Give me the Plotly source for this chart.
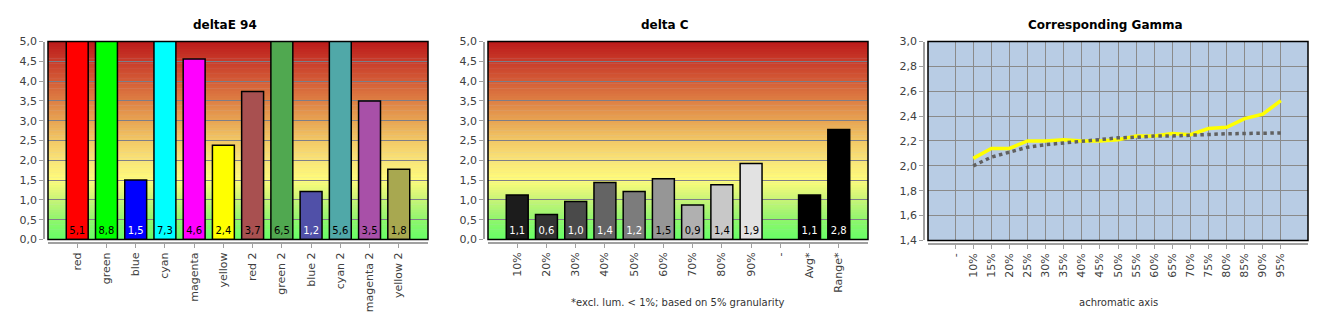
import plotly.graph_objects as go

# ---------------- data ----------------
de_cats = ["red", "green", "blue", "cyan", "magenta", "yellow",
           "red 2", "green 2", "blue 2", "cyan 2", "magenta 2", "yellow 2"]
de_vals = [5.1, 8.8, 1.5, 7.3, 4.56, 2.38, 3.74, 6.5, 1.21, 5.6, 3.5, 1.77]
de_colors = ["#ff0000", "#00ff00", "#0000ff", "#00ffff", "#ff00ff", "#ffff00",
             "#a85050", "#50a850", "#5050a8", "#50a8a8", "#a850a8", "#a8a850"]
de_text_colors = ["black", "black", "white", "black", "black", "black",
                  "black", "black", "white", "black", "black", "black"]

dc_cats = ["10%", "20%", "30%", "40%", "50%", "60%", "70%", "80%", "90%", "-", "Avg*", "Range*"]
dc_vals = [1.12, 0.63, 0.96, 1.44, 1.21, 1.53, 0.87, 1.38, 1.92, None, 1.12, 2.78]
dc_colors = ["#1c1c1c", "#333333", "#4a4a4a", "#646464", "#7c7c7c", "#969696",
             "#b0b0b0", "#c8c8c8", "#e2e2e2", "#000000", "#000000", "#000000"]
dc_text_colors = ["white", "white", "white", "white", "white", "black",
                  "black", "black", "black", "white", "white", "white"]

gm_cats = ["-", "10%", "15%", "20%", "25%", "30%", "35%", "40%", "45%", "50%",
           "55%", "60%", "65%", "70%", "75%", "80%", "85%", "90%", "95%"]
gm_measured = [None, 2.06, 2.14, 2.14, 2.20, 2.20, 2.21, 2.20, 2.20, 2.21,
               2.24, 2.24, 2.26, 2.25, 2.30, 2.31, 2.38, 2.415, 2.525]
gm_target = [None, 2.00, 2.07, 2.11, 2.15, 2.17, 2.185, 2.20, 2.215, 2.225,
             2.23, 2.24, 2.24, 2.247, 2.25, 2.258, 2.26, 2.265, 2.265]

# ---------------- layout geometry ----------------
W, H = 1330, 330
def fx(px):
    return px / W
def fy(py):
    return 1 - py / H

x1 = [fx(48), fx(428)]
x2 = [fx(488), fx(868)]
x3 = [fx(928), fx(1308)]
ydom = [fy(243), fy(37)]
ydom3 = [fy(244), fy(37)]
off_x = 4 / W
off_y = 4 / H

FONT = "DejaVu Sans"
TICKCOL = "#404040"
GRID = "#7e7e88"
GRID3 = "#8a8a8a"
AXLINE = "#a0a0a0"

fig = go.Figure()

fig.add_trace(go.Bar(
    x=de_cats, y=de_vals, marker=dict(color=de_colors, line=dict(color="black", width=1.5)),
    width=0.75, texttemplate="%{y:.1f}", textposition="inside", insidetextanchor="start",
    textangle=0, constraintext="none",
    textfont=dict(family=FONT, size=10, color=de_text_colors),
    xaxis="x", yaxis="y", showlegend=False, hoverinfo="x+y"))

fig.add_trace(go.Bar(
    x=dc_cats, y=dc_vals, marker=dict(color=dc_colors, line=dict(color="black", width=1.5)),
    width=0.75, texttemplate="%{y:.1f}", textposition="inside", insidetextanchor="start",
    textangle=0, constraintext="none",
    textfont=dict(family=FONT, size=10, color=dc_text_colors),
    xaxis="x2", yaxis="y2", showlegend=False, hoverinfo="x+y"))

fig.add_trace(go.Scatter(
    x=gm_cats, y=gm_measured, mode="lines", line=dict(color="#ffff00", width=3.5),
    xaxis="x3", yaxis="y3", showlegend=False))
fig.add_trace(go.Scatter(
    x=gm_cats, y=gm_target, mode="lines", line=dict(color="#606060", width=3.5, dash="dot"),
    xaxis="x3", yaxis="y3", showlegend=False))

# ---------------- gradient backgrounds ----------------
stops = [
    (0.00, (0x66, 0xff, 0x66)),
    (0.10, (0x90, 0xf6, 0x6c)),
    (0.20, (0xc8, 0xf4, 0x78)),
    (0.30, (0xff, 0xfc, 0x7a)),
    (0.40, (0xf9, 0xe4, 0x78)),
    (0.50, (0xf2, 0xc8, 0x66)),
    (0.60, (0xe8, 0xa4, 0x52)),
    (0.70, (0xde, 0x80, 0x44)),
    (0.80, (0xd4, 0x5c, 0x36)),
    (0.90, (0xc8, 0x3c, 0x2a)),
    (1.00, (0xbb, 0x1a, 0x1a)),
]
def col_at(t):
    for (a, ca), (b, cb) in zip(stops[:-1], stops[1:]):
        if a <= t <= b:
            f = (t - a) / (b - a)
            c = [round(ca[i] + f * (cb[i] - ca[i])) for i in range(3)]
            return "rgb(%d,%d,%d)" % tuple(c)
    return "rgb(%d,%d,%d)" % stops[-1][1]

shapes = []
N = 80
for xa, ya in (("x", "y"), ("x2", "y2")):
    for i in range(N):
        y0 = i / N
        y1 = (i + 1) / N + 0.002
        shapes.append(dict(type="rect", xref=xa + " domain", yref=ya + " domain",
                           x0=0, x1=1, y0=y0, y1=min(y1, 1), layer="below",
                           line=dict(width=0), fillcolor=col_at((i + 0.5) / N)))
# frames
for xa, ya in (("x", "y"), ("x2", "y2"), ("x3", "y3")):
    shapes.append(dict(type="rect", xref=xa + " domain", yref=ya + " domain",
                       x0=0, x1=1, y0=0, y1=1, layer="above",
                       line=dict(color="black", width=1.5)))

def xaxis_cfg(dom, ydomain, rng, grid=False):
    return dict(domain=dom, anchor="free", position=ydomain[0] - off_y,
                range=rng, type="category", showline=True, linecolor=AXLINE, linewidth=1.5,
                ticks="outside", ticklen=4, tickcolor=AXLINE, tickangle=-90,
                tickfont=dict(family=FONT, size=11, color=TICKCOL),
                showgrid=grid, gridcolor=GRID3, gridwidth=1, zeroline=False, fixedrange=True)

def yaxis_cfg(dom, xdomain, rng, dtick, gridcol):
    return dict(domain=dom, anchor="free", position=xdomain[0] - off_x,
                range=rng, dtick=dtick, tickformat=".1f", showline=True, linecolor=AXLINE,
                linewidth=1.5, ticks="outside", ticklen=4, tickcolor=AXLINE,
                tickfont=dict(family=FONT, size=11, color=TICKCOL),
                showgrid=True, gridcolor=gridcol, gridwidth=1, zeroline=False, fixedrange=True)

def ann(text, x, y, size, bold=False, color="black"):
    return dict(text=("<b>%s</b>" % text) if bold else text, x=fx(x), y=fy(y),
                xref="paper", yref="paper", xanchor="center", yanchor="middle",
                showarrow=False, font=dict(family=FONT, size=size, color=color))

annotations = [
    ann("deltaE 94", 225, 20, 12, bold=True),
    ann("delta C", 665, 20, 12, bold=True),
    ann("Corresponding Gamma", 1105, 20, 12, bold=True),
    ann("*excl. lum. &lt; 1%; based on 5% granularity", 678, 309, 10, color="#333333"),
    ann("achromatic axis", 1118, 309, 10, color="#333333"),
]

fig.update_layout(
    width=W, height=H, margin=dict(l=0, r=0, t=0, b=0),
    paper_bgcolor="white", plot_bgcolor="#b8cce4",
    separators=",.",
    xaxis=xaxis_cfg(x1, ydom, [-1, 12]),
    yaxis=yaxis_cfg(ydom, x1, [0, 5], 0.5, GRID),
    xaxis2=xaxis_cfg(x2, ydom, [-1, 12]),
    yaxis2=yaxis_cfg(ydom, x2, [0, 5], 0.5, GRID),
    xaxis3=xaxis_cfg(x3, ydom3, [-1.5, 19.5], grid=True),
    yaxis3=yaxis_cfg(ydom3, x3, [1.4, 3.0], 0.2, GRID3),
    shapes=shapes, annotations=annotations,
)

fig.write_html("out.html")
